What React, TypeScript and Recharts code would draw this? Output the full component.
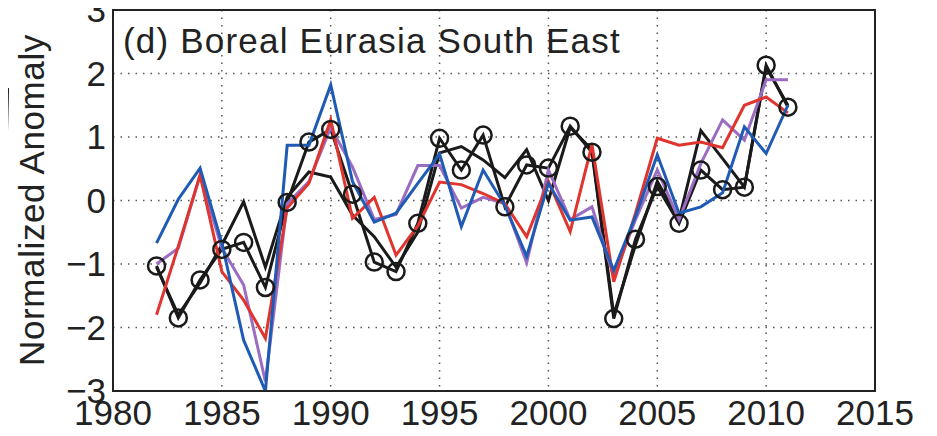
import React from 'react';
import { LineChart, Line, XAxis, YAxis, CartesianGrid, ReferenceArea } from 'recharts';

const years = [
  1982, 1983, 1984, 1985, 1986, 1987, 1988, 1989, 1990, 1991,
  1992, 1993, 1994, 1995, 1996, 1997, 1998, 1999, 2000, 2001,
  2002, 2003, 2004, 2005, 2006, 2007, 2008, 2009, 2010, 2011,
];

// observed anomaly, plotted with open circles
const observed = [
  -1.03, -1.85, -1.25, -0.77, -0.66, -1.37, -0.03, 0.92, 1.12, 0.1,
  -0.97, -1.12, -0.36, 0.98, 0.48, 1.03, -0.1, 0.56, 0.51, 1.17,
  0.76, -1.86, -0.61, 0.22, -0.36, 0.48, 0.17, 0.21, 2.13, 1.47,
];

// second black series, no markers
const observedAlt = [
  -1.05, -1.8, -1.3, -0.7, -0.02, -1.05, 0.05, 0.45, 0.37, -0.23,
  -0.57, -1.05, -0.5, 0.75, 0.85, 0.64, 0.36, 0.8, 0.0, 1.15,
  0.8, -1.8, -0.7, 0.3, -0.3, 1.1, 0.66, 0.21, 2.1, 1.5,
];

const purpleSeries = [
  -1.0, -0.75, 0.4, -0.75, -1.33, -2.85, -0.05, 0.3, 1.15, 0.53,
  -0.3, -0.22, 0.55, 0.55, -0.12, 0.05, -0.05, -0.98, 0.48, -0.3,
  -0.1, -1.2, -0.3, 0.48, -0.3, 0.58, 1.27, 0.95, 1.9, 1.9,
];

const redSeries = [
  -1.8, -0.72, 0.4, -1.12, -1.57, -2.17, -0.12, 0.27, 1.27, -0.28,
  0.05, -0.86, -0.4, 0.29, 0.25, 0.11, -0.05, -0.57, 0.3, -0.49,
  0.88, -1.28, -0.2, 0.98, 0.87, 0.92, 0.83, 1.5, 1.63, 1.38,
];

const blueSeries = [
  -0.67, 0.02, 0.51, -0.67, -2.2, -3.0, 0.87, 0.87, 1.82, 0.3,
  -0.34, -0.2, 0.27, 0.73, -0.41, 0.48, -0.08, -0.88, 0.27, -0.31,
  -0.26, -1.1, -0.25, 0.72, -0.2, -0.1, 0.12, 1.16, 0.74, 1.5,
];

const xTicks = [1980, 1985, 1990, 1995, 2000, 2005, 2010, 2015];
const yTicks = [-3, -2, -1, 0, 1, 2, 3];

const data = years.map((year, i) => ({
  year,
  observed: observed[i],
  observedAlt: observedAlt[i],
  purple: purpleSeries[i],
  red: redSeries[i],
  blue: blueSeries[i],
}));

const FONT = '"Liberation Sans", Arial, Helvetica, sans-serif';
const tickStyle = { fill: '#222', fontSize: 35, fontFamily: FONT };

const fmtY = (v: number) => (v < 0 ? '\u2212' + Math.abs(v) : String(v));

export default function App() {
  return (
    <div style={{ position: 'relative', width: 937, height: 436, margin: '-8px 0 0 -8px', background: '#fff' }}>
      <LineChart
        width={937}
        height={436}
        data={data}
        margin={{ top: 10, right: 62, bottom: 15, left: 0 }}
      >
        <CartesianGrid stroke="#555" strokeWidth={1.5} strokeDasharray="1.5 6" />
        <XAxis
          dataKey="year"
          type="number"
          domain={[1980, 2015]}
          ticks={xTicks}
          interval={0}
          height={30}
          tickLine={false}
          tickSize={0}
          tickMargin={9}
          tick={tickStyle}
          axisLine={{ stroke: '#222', strokeWidth: 2 }}
          allowDataOverflow
        />
        <YAxis
          type="number"
          domain={[-3, 3]}
          ticks={yTicks}
          interval={0}
          width={113}
          tickLine={false}
          tickSize={0}
          tickMargin={7}
          tick={tickStyle}
          tickFormatter={fmtY}
          axisLine={{ stroke: '#222', strokeWidth: 2 }}
          allowDataOverflow
        />
        <ReferenceArea x1={1980} x2={2015} y1={-3} y2={3} fill="none" stroke="#222" strokeWidth={2} />
        <Line
          dataKey="observedAlt"
          stroke="#1a1a1a"
          strokeWidth={3}
          dot={false}
          isAnimationActive={false}
        />
        <Line
          dataKey="observed"
          stroke="#1a1a1a"
          strokeWidth={3}
          dot={{ r: 8.5, stroke: '#1a1a1a', strokeWidth: 2.5, fill: 'none' }}
          isAnimationActive={false}
        />
        <Line dataKey="purple" stroke="#9a6cc2" strokeWidth={3} dot={false} isAnimationActive={false} />
        <Line dataKey="red" stroke="#e0352e" strokeWidth={3} dot={false} isAnimationActive={false} />
        <Line dataKey="blue" stroke="#1f5bb5" strokeWidth={3} dot={false} isAnimationActive={false} />
      </LineChart>
      <svg
        width={937}
        height={436}
        style={{ position: 'absolute', left: 0, top: 0, pointerEvents: 'none' }}
      >
        <text x={123} y={53} fontSize={35} letterSpacing={1.2} fontFamily={FONT} fill="#222">
          (d) Boreal Eurasia South East
        </text>
        <text
          transform="translate(44,200) rotate(-90)"
          textAnchor="middle"
          fontSize={35}
          letterSpacing={0.6}
          fontFamily={FONT}
          fill="#222"
        >
          Normalized Anomaly
        </text>
        <polygon points="1,90 9,88 8,132 1,135" fill="#111" />
      </svg>
    </div>
  );
}
